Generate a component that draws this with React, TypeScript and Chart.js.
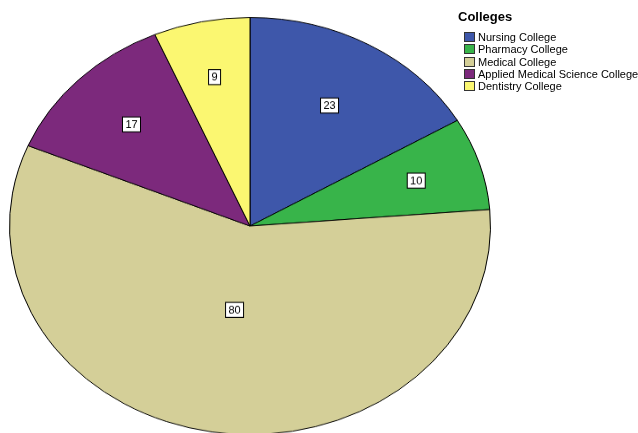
import React, { useEffect, useRef } from "react";
import { Chart, registerables } from "chart.js";

Chart.register(...registerables);

const legendTitle = "Colleges";
const categories = [
  "Nursing College",
  "Pharmacy College",
  "Medical College",
  "Applied Medical Science College",
  "Dentistry College",
];
const counts = [23, 10, 80, 17, 9];
const colors = ["#3e57aa", "#38b44a", "#d4cf98", "#7c297c", "#fbf771"];

const SQUASH = 0.867;
const FONT = '"Liberation Sans", Arial, sans-serif';

const labelPlugin = {
  id: "boxLabels",
  afterDatasetsDraw(chart: any) {
    const ctx = chart.ctx;
    const meta = chart.getDatasetMeta(0);
    const data = chart.data.datasets[0].data as number[];
    const total = data.reduce((a, b) => a + b, 0);
    meta.data.forEach((arc: any, i: number) => {
      const p = arc.getProps(["x", "y", "startAngle", "endAngle", "outerRadius"], true);
      const mid = (p.startAngle + p.endAngle) / 2;
      const share = data[i] / total;
      const frac = 0.77 - 0.63 * share;
      const px = p.x + Math.cos(mid) * p.outerRadius * frac;
      const py = p.y + Math.sin(mid) * p.outerRadius * frac;
      const text = String(data[i]);
      ctx.save();
      ctx.translate(px, py);
      ctx.scale(1, 1 / SQUASH);
      ctx.font = `11px ${FONT}`;
      const w = Math.round(ctx.measureText(text).width) + 6;
      const h = 15;
      ctx.fillStyle = "#ffffff";
      ctx.fillRect(-w / 2, -h / 2, w, h);
      ctx.strokeStyle = "#000000";
      ctx.lineWidth = 1;
      ctx.strokeRect(-w / 2, -h / 2, w, h);
      ctx.fillStyle = "#000000";
      ctx.textAlign = "center";
      ctx.textBaseline = "middle";
      ctx.fillText(text, 0, 0.5);
      ctx.restore();
    });
  },
};

export default function App() {
  const ref = useRef<HTMLCanvasElement | null>(null);

  useEffect(() => {
    if (!ref.current) return;
    const chart = new Chart(ref.current, {
      type: "pie",
      data: {
        labels: categories,
        datasets: [
          {
            data: counts,
            backgroundColor: colors,
            borderColor: "#000000",
            borderWidth: 1,
          },
        ],
      },
      options: {
        responsive: false,
        animation: false,
        layout: { padding: 0 },
        plugins: {
          legend: { display: false },
          tooltip: { enabled: false },
        },
      },
      plugins: [labelPlugin],
    });
    return () => chart.destroy();
  }, []);

  return (
    <div
      style={{
        position: "fixed",
        left: 0,
        top: 0,
        width: 638,
        height: 433,
        overflow: "hidden",
        background: "#ffffff",
        fontFamily: FONT,
      }}
    >
      <div
        style={{
          position: "absolute",
          left: 9,
          top: -15,
          width: 482,
          height: 482,
          transform: `scaleY(${SQUASH})`,
          transformOrigin: "50% 50%",
        }}
      >
        <canvas ref={ref} width={482} height={482} />
      </div>
      <div
        style={{
          position: "absolute",
          left: 458,
          top: 9,
          fontSize: 13,
          fontWeight: "bold",
          lineHeight: "15px",
          color: "#000",
        }}
      >
        {legendTitle}
      </div>
      {categories.map((c, i) => (
        <div
          key={c}
          style={{
            position: "absolute",
            left: 464,
            top: 31 + i * 12.25,
            height: 12,
            display: "flex",
            alignItems: "center",
            fontSize: 11,
            lineHeight: "12px",
            whiteSpace: "nowrap",
            color: "#000",
          }}
        >
          <span
            style={{
              display: "inline-block",
              width: 9,
              height: 8,
              background: colors[i],
              border: "1px solid #333",
              marginRight: 3,
            }}
          />
          {c}
        </div>
      ))}
    </div>
  );
}
